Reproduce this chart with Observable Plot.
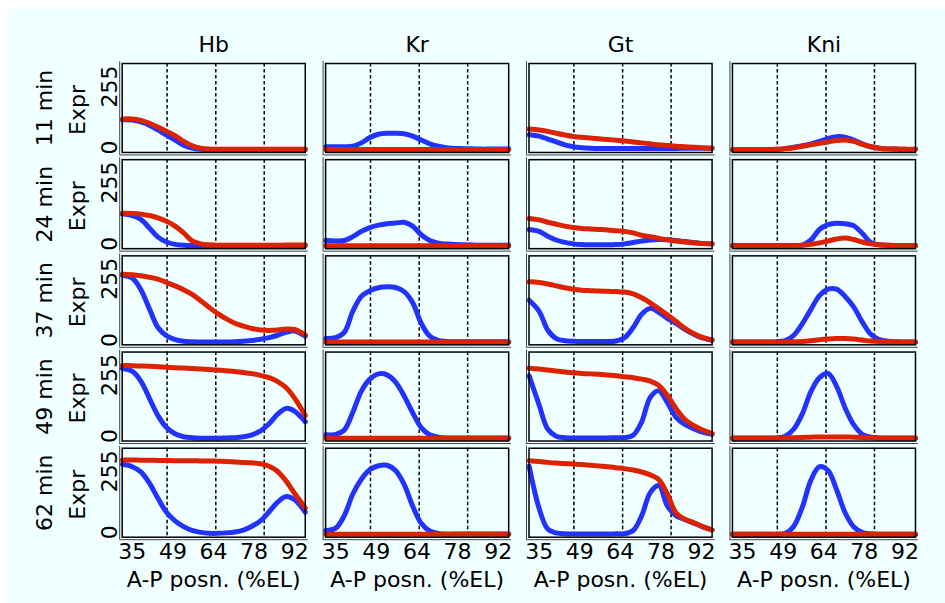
<!DOCTYPE html>
<html><head><meta charset="utf-8">
<script src="https://cdn.jsdelivr.net/npm/d3@7"></script>
<script src="https://cdn.jsdelivr.net/npm/@observablehq/plot@0.6"></script>
<style>
html,body{margin:0;padding:0;background:#fff;}
#chart{position:absolute;left:8px;top:9px;width:937px;height:594px;background:#f0ffff;}
</style></head><body><div id="chart"></div>
<script>
const genes = ["Hb", "Kr", "Gt", "Kni"];
const times = [11, 24, 37, 49, 62];
const positions = [31.5,35,38,41,44,47,50,53,56,59,62,65,68,71,74,77,80,83,86,89,92,95.7];
const xTicks = [35, 49.25, 63.5, 77.75, 92];
const yTicks = [0, 255];
const guideLines = [47.2, 64.3, 81.3];
const xTitle = "A-P posn. (%EL)";
const yTitle = "Expr";

// blue series, one row per time point
const hbBlue = [
  [126,125,118,104,84,62,42,20,8,3,2,2,2,2,2,2,2,2,2,2,2,2],
  [134,128,112,76,38,18,8,4,3,3,3,3,3,3,3,3,3,3,3,3,3,3],
  [280,268,220,140,62,28,12,5,3,2,2,2,2,3,5,8,13,20,30,42,48,26],
  [292,280,240,168,96,46,20,8,4,2,2,2,3,4,8,16,32,62,102,126,114,70],
  [294,284,262,215,152,94,58,34,18,10,6,6,8,12,20,36,58,96,136,160,146,94]
];
const krBlue = [
  [14,14,14,16,30,52,66,70,70,68,58,42,26,16,10,7,6,5,4,4,4,4],
  [24,22,24,40,62,78,88,94,97,100,84,48,24,13,9,7,6,5,4,4,4,4],
  [16,20,42,130,192,216,228,232,229,212,166,80,26,8,4,3,3,3,3,3,3,3],
  [16,18,36,110,198,248,270,266,236,178,108,46,16,6,3,3,3,3,3,3,3,3],
  [18,28,80,170,232,272,288,290,268,210,120,48,16,6,3,3,3,3,3,3,3,3]
];
const gtBlue = [
  [64,58,46,34,22,14,10,8,7,7,7,7,7,7,7,7,7,7,8,8,8,8],
  [70,62,42,26,16,10,7,6,6,6,7,10,16,22,26,28,27,24,20,16,12,9],
  [176,130,52,16,7,5,4,4,4,4,6,20,62,118,142,126,100,80,56,36,20,9],
  [262,140,40,10,4,3,3,3,3,3,4,4,14,70,172,200,150,90,60,42,28,18],
  [286,110,24,8,4,3,3,3,3,3,4,5,18,80,176,205,120,80,64,50,35,20]
];
const kniBlue = [
  [2,2,2,2,2,3,6,12,18,26,36,48,56,54,42,26,14,8,5,4,3,3],
  [3,3,3,3,3,3,3,3,5,26,70,90,96,94,86,54,16,6,4,3,3,3],
  [2,2,2,2,2,3,8,30,78,138,195,222,222,192,148,86,34,12,5,3,2,2],
  [2,2,2,2,2,3,10,40,104,196,254,272,218,128,58,18,6,3,2,2,2,2],
  [2,2,2,2,2,2,6,36,116,228,284,268,188,92,34,10,4,2,2,2,2,2]
];
// red series, one row per time point
const hbRed = [
  [130,130,124,112,96,78,60,36,18,8,4,3,3,3,3,3,3,3,3,3,3,3],
  [138,137,134,128,118,104,84,56,22,10,6,4,4,4,4,4,4,4,4,5,5,5],
  [284,282,278,272,264,250,236,220,200,174,146,120,98,80,68,58,52,50,52,56,54,32],
  [305,304,303,302,300,298,296,294,292,290,288,286,283,280,276,271,264,254,238,212,168,96],
  [312,312,311,311,310,310,309,309,309,308,308,307,306,304,302,300,296,286,264,224,172,112]
];
const krRed = [
  [2,2,2,2,2,2,2,2,2,2,2,2,2,2,2,2,2,2,2,2,2,2],
  [2,2,2,2,2,2,2,2,2,2,2,2,2,2,2,2,2,2,2,2,2,2],
  [2,2,2,2,2,2,2,2,2,2,2,2,2,2,2,2,2,2,2,2,2,2],
  [2,2,2,2,2,2,2,2,2,2,2,2,2,2,2,2,2,2,2,2,2,2],
  [2,2,2,2,2,2,2,2,2,2,2,2,2,2,2,2,2,2,2,2,2,2]
];
const gtRed = [
  [88,84,78,70,63,57,53,50,47,44,41,38,34,30,26,22,19,16,14,12,10,8],
  [116,110,100,92,84,78,74,72,70,68,65,62,56,46,40,33,27,22,18,15,12,10],
  [253,250,244,236,228,222,218,216,214,213,212,210,202,186,165,140,115,88,60,38,22,10],
  [294,290,286,282,278,275,272,270,268,265,262,258,254,248,240,222,180,126,82,56,38,22],
  [309,306,302,299,297,295,293,290,287,284,280,276,270,262,250,230,170,92,66,52,36,20]
];
const kniRed = [
  [2,2,2,2,2,3,6,10,16,22,28,34,40,42,36,24,14,8,5,4,3,3],
  [2,2,2,2,2,2,2,2,4,8,14,22,30,34,28,18,10,6,4,3,3,3],
  [2,2,2,2,2,2,2,3,4,7,11,14,16,16,14,10,6,4,3,2,2,2],
  [3,3,3,3,3,3,3,4,5,6,7,7,7,7,6,5,4,3,3,3,3,3],
  [2,2,2,2,2,2,2,2,2,2,2,2,2,2,2,2,2,2,2,2,2,2]
];

const blueByGene = {Hb: hbBlue, Kr: krBlue, Gt: gtBlue, Kni: kniBlue};
const redByGene = {Hb: hbRed, Kr: krRed, Gt: gtRed, Kni: kniRed};

function toRows(byGene) {
  const out = [];
  genes.forEach(g => times.forEach((t, ti) => positions.forEach((x, xi) =>
    out.push({gene: g, time: t, x, v: byGene[g][ti][xi]}))));
  return out;
}
const blueRows = toRows(blueByGene);
const redRows = toRows(redByGene);
const yTickRows = times.flatMap(t => yTicks.map(v => ({time: t, v})));
const xTickRows = genes.flatMap(g => xTicks.map(v => ({gene: g, v})));
const xMin = 31.45, xMax = 95.7, yMin = -10, yMax = 361;
const mid = {textAnchor: "middle", lineAnchor: "middle"};

const chart = Plot.plot({
  width: 937,
  height: 594,
  marginLeft: 113.7,
  marginRight: 30,
  marginTop: 54,
  marginBottom: 66.3,
  style: {fontFamily: "DejaVu Sans", fontSize: "22px", background: "transparent", color: "black", overflow: "visible"},
  x: {domain: [xMin, xMax], axis: null},
  y: {domain: [yMin, yMax], axis: null},
  fx: {domain: genes, paddingInner: 0.1, paddingOuter: 0, round: false, axis: null},
  fy: {domain: times, paddingInner: 0.075, paddingOuter: 0, round: false, axis: null},
  marks: [
    Plot.ruleX(guideLines, {stroke: "black", strokeWidth: 1.5, strokeDasharray: "3.5,2.5"}),
    Plot.lineY(blueRows, {x: "x", y: "v", fx: "gene", fy: "time", stroke: "#2233ff", strokeWidth: 5, curve: "catmull-rom"}),
    Plot.lineY(redRows, {x: "x", y: "v", fx: "gene", fy: "time", stroke: "#dd2200", strokeWidth: 5, curve: "catmull-rom"}),
    Plot.ruleX([xMin], {dx: -2.5, stroke: "#444", strokeWidth: 1, y1: yMin - 10, y2: yMax + 8}),
    Plot.ruleY([yMin], {dy: 2.5, stroke: "#444", strokeWidth: 1, x1: xMin - 0.9, x2: xMax + 1}),
    Plot.frame({stroke: "black", strokeWidth: 1.5}),
    Plot.text(yTickRows, {fx: () => genes[0], fy: "time", y: "v", text: d => String(d.v), frameAnchor: "left", ...mid, rotate: -90, dx: -11.8, dy: -2.5}),
    Plot.text(times, {fx: () => genes[0], fy: d => d, frameAnchor: "left", ...mid, rotate: -90, dx: -43.8, dy: 2, text: () => yTitle}),
    Plot.text(times, {fx: () => genes[0], fy: d => d, frameAnchor: "left", ...mid, rotate: -90, dx: -77.5, text: d => `${d} min`}),
    Plot.text(genes, {fx: d => d, fy: () => times[0], frameAnchor: "top", ...mid, dy: -19, text: d => d}),
    Plot.text(xTickRows, {fx: "gene", fy: () => times[times.length - 1], x: "v", frameAnchor: "bottom", ...mid, dy: 14.6, text: d => String(Math.round(d.v))}),
    Plot.text(genes, {fx: d => d, fy: () => times[times.length - 1], frameAnchor: "bottom", ...mid, dy: 43, text: () => xTitle})
  ]
});
document.getElementById("chart").appendChild(chart);
</script>
</body></html>
